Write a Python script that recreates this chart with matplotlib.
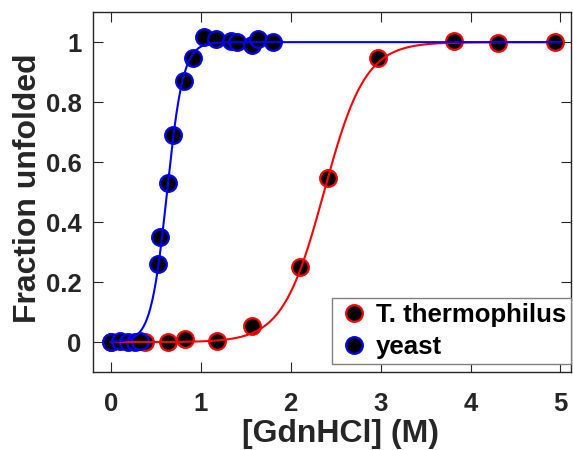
import numpy as np
import matplotlib
matplotlib.use("Agg")
import matplotlib.pyplot as plt
from matplotlib.lines import Line2D

plt.rcParams["font.family"] = ["Liberation Sans", "DejaVu Sans"]
plt.rcParams["font.weight"] = "bold"

# measured points (GdnHCl in M, fraction unfolded)
thermo_x = [0.0, 0.38, 0.64, 0.83, 1.18, 1.57, 2.10, 2.41, 2.97, 3.82, 4.30, 4.94]
thermo_y = [0.0, 0.0, 0.0, 0.01, 0.003, 0.055, 0.249, 0.546, 0.946, 1.004, 0.997, 1.0]

yeast_x = [0.0, 0.10, 0.19, 0.27, 0.32, 0.53, 0.55, 0.64, 0.69, 0.81, 0.91,
           1.04, 1.17, 1.34, 1.40, 1.57, 1.64, 1.80]
yeast_y = [0.0, 0.003, 0.0, 0.0, 0.003, 0.26, 0.35, 0.53, 0.69, 0.87, 0.947,
           1.016, 1.01, 1.005, 1.0, 0.99, 1.01, 1.0]

# two-state fit parameters (midpoint, width)
thermo_fit = (2.37, 0.23)
yeast_fit = (0.625, 0.09)


def two_state(x, cm, w):
    return 1.0 / (1.0 + np.exp(-(x - cm) / w))


xfit = np.linspace(0, 5, 500)
grey = "#262626"

fig = plt.figure(figsize=(5.73, 4.5), dpi=100)
ax = fig.add_axes([0.162, 0.173, 0.835, 0.800])

ax.plot(thermo_x, thermo_y, "o", ms=12, mfc="black", mec="red", mew=1.6, zorder=2)
ax.plot(yeast_x, yeast_y, "o", ms=12, mfc="black", mec="blue", mew=1.6, zorder=2)
ax.plot(xfit, two_state(xfit, *thermo_fit), color="red", lw=1.5, zorder=3)
ax.plot(xfit, two_state(xfit, *yeast_fit), color="blue", lw=1.5, zorder=3)

ax.set_xlim(-0.2, 5.12)
ax.set_ylim(-0.1, 1.1)
ax.set_xticks([0, 1, 2, 3, 4, 5])
ax.set_yticks([0, 0.2, 0.4, 0.6, 0.8, 1])
ax.set_yticklabels(["0", "0.2", "0.4", "0.6", "0.8", "1"])
ax.tick_params(direction="in", length=7, width=0.8, top=True, right=True,
               labelsize=18.5, color=grey, labelcolor=grey)
ax.tick_params(axis="x", pad=14)
ax.tick_params(axis="y", pad=8)
for s in ax.spines.values():
    s.set_color(grey)
    s.set_linewidth(1.0)

ax.set_xlabel("[GdnHCl] (M)", fontsize=23, fontweight="bold", color=grey)
ax.set_ylabel("Fraction unfolded", fontsize=23, fontweight="bold", color=grey)
ax.xaxis.set_label_coords(0.518, -0.13)
ax.yaxis.set_label_coords(-0.104, 0.51)

handles = [
    Line2D([], [], ls="none", marker="o", ms=12, mfc="black", mec="red", mew=1.6,
           label="T. thermophilus"),
    Line2D([], [], ls="none", marker="o", ms=12, mfc="black", mec="blue", mew=1.6,
           label="yeast"),
]
leg = ax.legend(handles=handles, loc="lower right", bbox_to_anchor=(1.0, 0.022),
                borderaxespad=0, fontsize=18.5, fancybox=False, framealpha=1,
                edgecolor="#808080", handlelength=1.3, handletextpad=0.2,
                labelspacing=0.3, borderpad=0.2)
leg.get_frame().set_linewidth(1.0)

fig.savefig("out.png", dpi=100)
